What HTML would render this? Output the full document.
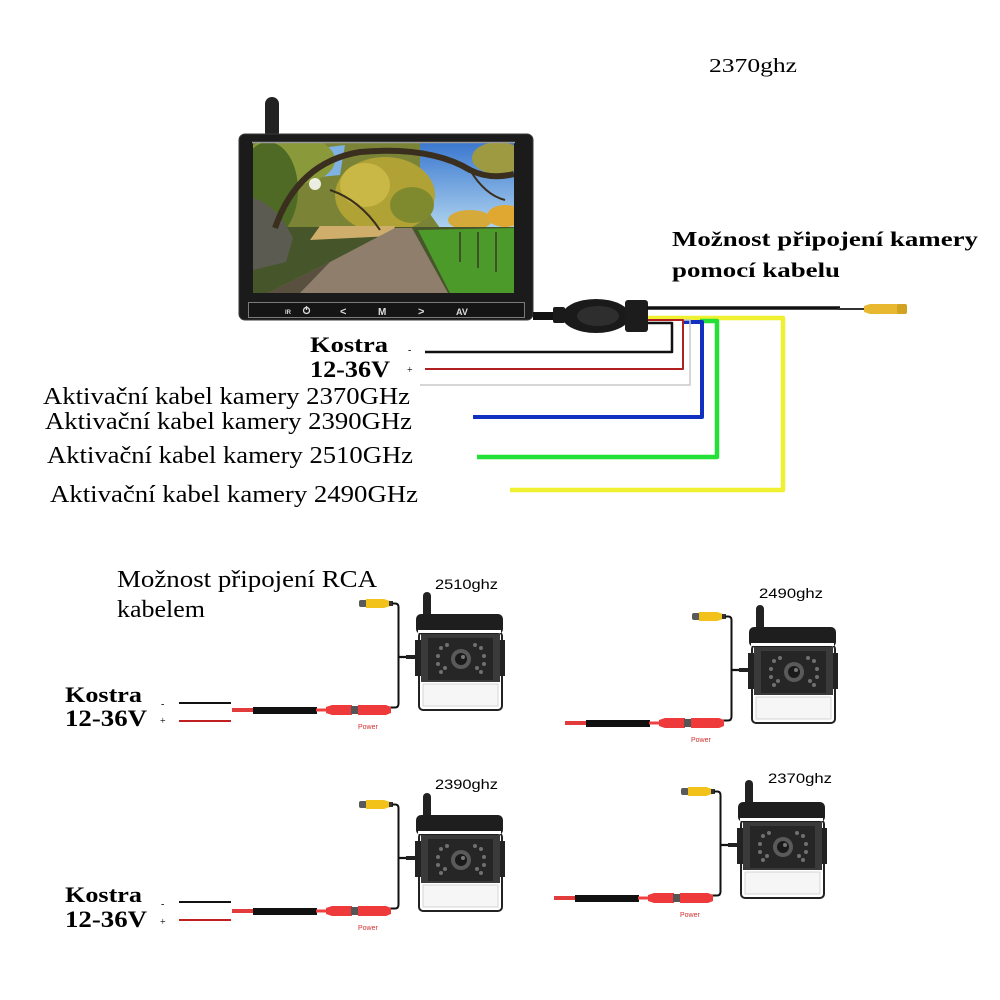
<!DOCTYPE html>
<html><head><meta charset="utf-8"><style>
html,body{margin:0;padding:0;background:#fff;}
svg{display:block;}
.serif{font-family:"Liberation Serif",serif;}
.sans{font-family:"Liberation Sans",sans-serif;}
</style></head><body>
<svg width="1000" height="1000" viewBox="0 0 1000 1000" xmlns="http://www.w3.org/2000/svg">
<defs>
<linearGradient id="sky" x1="0" y1="0" x2="0" y2="1"><stop offset="0" stop-color="#3b78cf"/><stop offset="1" stop-color="#aed3ef"/></linearGradient>
<clipPath id="scr"><rect x="253" y="143" width="261" height="150"/></clipPath>
<g id="cam">
 <rect x="359" y="600" width="8" height="7" rx="2" fill="#5a5a5a"/>
 <path d="M366,599 H384 L390,601 V606 L384,608 H366 Z" fill="#f2c21a"/>
 <rect x="389" y="601" width="4" height="5" fill="#333"/>
 <path d="M392,603.5 H395 Q398.5,603.5 398.5,607 V703.5 Q398.5,707.5 395,707.5 H388" fill="none" stroke="#111" stroke-width="2"/>
 <path d="M398.5,657 H420" stroke="#111" stroke-width="2.2"/>
 <path d="M406,657 H419" stroke="#222" stroke-width="4"/>
 <path d="M232,710 H255" stroke="#e23b3b" stroke-width="4"/>
 <rect x="253" y="707" width="64" height="7" fill="#111"/>
 <path d="M316,710 H330" stroke="#ee4040" stroke-width="3"/>
 <path d="M326,707 L332,705 H352 V715 H332 L326,713 Z" fill="#ee3a3a"/>
 <rect x="351" y="706" width="8" height="8" fill="#555"/>
 <path d="M358,705 H386 L391,707 V713 L386,715 H358 Z" fill="#ee3a3a"/>
 <rect x="423" y="592" width="8" height="26" rx="4" fill="#222"/>
 <rect x="419" y="632" width="83" height="78" rx="4" fill="#fff" stroke="#222" stroke-width="2"/>
 <rect x="415" y="640" width="6" height="36" fill="#222"/>
 <rect x="500" y="640" width="5" height="36" fill="#222"/>
 <rect x="421" y="634" width="79" height="48" fill="#3a3a3a"/>
 <rect x="428" y="638" width="65" height="42" fill="#262626"/>
 <rect x="423" y="684" width="75" height="22" fill="#f6f6f6" stroke="#ccc" stroke-width="0.8"/>
 <rect x="416" y="614" width="87" height="20" rx="5" fill="#1e1e1e"/>
 <rect x="418" y="630" width="83" height="3" fill="#fff"/>
 <circle cx="461" cy="659" r="10" fill="#5a5a5a"/>
 <circle cx="461" cy="659" r="6" fill="#1a1a1a"/>
 <circle cx="463" cy="657" r="2" fill="#777"/>
 <g fill="#707070">
  <circle cx="441" cy="648" r="2"/><circle cx="438" cy="656" r="2"/><circle cx="438" cy="664" r="2"/><circle cx="441" cy="672" r="2"/>
  <circle cx="447" cy="645" r="2"/><circle cx="445" cy="668" r="2"/>
  <circle cx="481" cy="648" r="2"/><circle cx="484" cy="656" r="2"/><circle cx="484" cy="664" r="2"/><circle cx="481" cy="672" r="2"/>
  <circle cx="475" cy="645" r="2"/><circle cx="477" cy="668" r="2"/>
 </g>
</g>
</defs>

<text x="709" y="72" class="serif" font-size="20" textLength="88" lengthAdjust="spacingAndGlyphs">2370ghz</text>

<!-- Monitor -->
<rect x="265" y="97" width="14" height="42" rx="7" fill="#222"/>
<rect x="239" y="134" width="294" height="186" rx="6" fill="#1b1b1b" stroke="#3a3a3a" stroke-width="1"/>
<g clip-path="url(#scr)">
 <rect x="253" y="143" width="261" height="150" fill="#7b8436"/>
 <polygon points="420,143 514,143 514,228 440,228 420,200" fill="url(#sky)"/>
 <polygon points="305,150 345,145 340,175 310,178" fill="#7fb2e2"/>
 <ellipse cx="498" cy="158" rx="26" ry="16" fill="#9d9a42"/>
 <ellipse cx="290" cy="160" rx="45" ry="25" fill="#8a9a3a"/>
 <ellipse cx="385" cy="195" rx="50" ry="38" fill="#b0a234"/>
 <ellipse cx="365" cy="185" rx="25" ry="22" fill="#c9b845"/>
 <ellipse cx="412" cy="205" rx="22" ry="18" fill="#7f8a2e"/>
 <ellipse cx="470" cy="220" rx="22" ry="10" fill="#d6aa3a"/>
 <ellipse cx="505" cy="216" rx="18" ry="11" fill="#e0a830"/>
 <ellipse cx="268" cy="190" rx="30" ry="48" fill="#4e6a24"/>
 <rect x="253" y="227" width="261" height="66" fill="#46552a"/>
 <polygon points="320,226 395,226 392,236 310,240" fill="#cfae6c"/>
 <polygon points="418,230 514,228 514,293 450,293" fill="#4c9a2a"/>
 <polygon points="395,228 412,228 448,293 268,293 330,262" fill="#8e7e6b"/>
 <polygon points="330,262 300,293 268,293" fill="#5a5040"/>
 <path d="M253,198 Q276,204 293,238 L286,262 L253,270 Z" fill="#5c5b52"/>
 <path d="M275,228 Q298,162 360,152 Q430,146 470,170 Q490,180 514,174" stroke="#3a2f1e" stroke-width="6" fill="none"/>
 <path d="M470,170 Q485,195 505,200" stroke="#3a2f1e" stroke-width="2" fill="none"/>
 <path d="M330,190 Q360,200 380,230" stroke="#3a2f1e" stroke-width="2" fill="none"/>
 <circle cx="315" cy="184" r="6" fill="#fff" opacity="0.85"/>
 <g stroke="#3a3a28" stroke-width="1.5"><path d="M460,232 V262"/><path d="M478,232 V268"/><path d="M496,232 V272"/></g>
</g>
<line x1="252" y1="142.5" x2="515" y2="142.5" stroke="#9a9a9a" stroke-width="1.5"/>
<rect x="248.5" y="302.5" width="276" height="15" fill="#151515" stroke="#7a7a7a" stroke-width="1"/>
<g fill="#ddd" font-family="Liberation Sans, sans-serif" font-weight="bold">
 <text x="285" y="314" font-size="6">IR</text>
 <text x="340" y="315" font-size="11">&lt;</text>
 <text x="378" y="315" font-size="10">M</text>
 <text x="418" y="315" font-size="11">&gt;</text>
 <text x="456" y="315" font-size="9">AV</text>
</g>
<circle cx="306.5" cy="310.5" r="3" fill="none" stroke="#ddd" stroke-width="1.3"/>
<line x1="306.5" y1="306" x2="306.5" y2="310" stroke="#ddd" stroke-width="1.3"/>

<g fill="none" stroke-linejoin="round">
 <path d="M645,318 H783 V490 H510" stroke="#eef030" stroke-width="4.5"/>
 <path d="M700,321 H717 V457 H477" stroke="#22e036" stroke-width="4.5"/>
 <path d="M682,322 H702 V417 H473" stroke="#1030c0" stroke-width="4"/>
 <path d="M660,320 H690 V385 H420" stroke="#c8c8c8" stroke-width="1.5"/>
 <path d="M647,320 H683 V369 H425" stroke="#b02020" stroke-width="2"/>
 <path d="M647,323 H672 V352 H425" stroke="#111" stroke-width="2.5"/>
</g>
<rect x="533" y="312" width="28" height="8" fill="#111"/>
<rect x="553" y="307" width="12" height="16" rx="2" fill="#1a1a1a"/>
<ellipse cx="596" cy="316" rx="34" ry="17" fill="#1a1a1a"/>
<ellipse cx="598" cy="316" rx="21" ry="10" fill="#2e2e2e"/>
<rect x="625" y="300" width="23" height="32" rx="3" fill="#1c1c1c"/>
<path d="M647,308 H840" stroke="#111" stroke-width="3.5"/>
<path d="M838,309 H866" stroke="#333" stroke-width="2"/>
<path d="M864,306 L870,304 H898 V314 H870 L864,312 Z" fill="#e8b830"/>
<rect x="897" y="304" width="10" height="10" rx="2" fill="#d2a222"/>

<text x="672" y="246" class="serif" font-weight="bold" font-size="21" textLength="306" lengthAdjust="spacingAndGlyphs">Možnost připojení kamery</text>
<text x="672" y="277" class="serif" font-weight="bold" font-size="21" textLength="168" lengthAdjust="spacingAndGlyphs">pomocí kabelu</text>

<text x="310" y="352" class="serif" font-weight="bold" font-size="22" textLength="78" lengthAdjust="spacingAndGlyphs">Kostra</text>
<text x="310" y="377" class="serif" font-weight="bold" font-size="23" textLength="80" lengthAdjust="spacingAndGlyphs">12-36V</text>
<text x="408" y="353" class="serif" font-size="10">-</text>
<text x="407" y="373" class="serif" font-size="10">+</text>

<text x="43" y="404" class="serif" font-size="24" textLength="367" lengthAdjust="spacingAndGlyphs">Aktivační kabel kamery 2370GHz</text>
<text x="45" y="429" class="serif" font-size="24" textLength="367" lengthAdjust="spacingAndGlyphs">Aktivační kabel kamery 2390GHz</text>
<text x="47" y="463" class="serif" font-size="24" textLength="366" lengthAdjust="spacingAndGlyphs">Aktivační kabel kamery 2510GHz</text>
<text x="50" y="502" class="serif" font-size="24" textLength="368" lengthAdjust="spacingAndGlyphs">Aktivační kabel kamery 2490GHz</text>

<text x="117" y="587" class="serif" font-size="24" textLength="260" lengthAdjust="spacingAndGlyphs">Možnost připojení RCA</text>
<text x="117" y="617" class="serif" font-size="24" textLength="88" lengthAdjust="spacingAndGlyphs">kabelem</text>

<use href="#cam"/>
<use href="#cam" transform="translate(333,13)"/>
<use href="#cam" transform="translate(0,201)"/>
<use href="#cam" transform="translate(322,188)"/>

<g class="sans" font-size="14">
 <text x="435" y="589" textLength="63" lengthAdjust="spacingAndGlyphs">2510ghz</text>
 <text x="759" y="598" textLength="64" lengthAdjust="spacingAndGlyphs">2490ghz</text>
 <text x="435" y="789" textLength="63" lengthAdjust="spacingAndGlyphs">2390ghz</text>
 <text x="768" y="783" textLength="64" lengthAdjust="spacingAndGlyphs">2370ghz</text>
</g>
<g class="sans" font-size="7" fill="#d03030">
 <text x="358" y="729">Power</text>
 <text x="691" y="742">Power</text>
 <text x="358" y="930">Power</text>
 <text x="680" y="917">Power</text>
</g>

<text x="65" y="702" class="serif" font-weight="bold" font-size="22" textLength="77" lengthAdjust="spacingAndGlyphs">Kostra</text>
<text x="65" y="726" class="serif" font-weight="bold" font-size="23" textLength="82" lengthAdjust="spacingAndGlyphs">12-36V</text>
<text x="161" y="707" class="serif" font-size="10">-</text>
<text x="160" y="724" class="serif" font-size="10">+</text>
<path d="M179,703 H231" stroke="#111" stroke-width="2"/>
<path d="M179,721 H231" stroke="#c02020" stroke-width="2"/>

<text x="65" y="902" class="serif" font-weight="bold" font-size="22" textLength="77" lengthAdjust="spacingAndGlyphs">Kostra</text>
<text x="65" y="927" class="serif" font-weight="bold" font-size="23" textLength="82" lengthAdjust="spacingAndGlyphs">12-36V</text>
<text x="161" y="907" class="serif" font-size="10">-</text>
<text x="160" y="925" class="serif" font-size="10">+</text>
<path d="M179,902 H231" stroke="#111" stroke-width="2"/>
<path d="M179,920 H231" stroke="#c02020" stroke-width="2"/>
</svg>
</body></html>
